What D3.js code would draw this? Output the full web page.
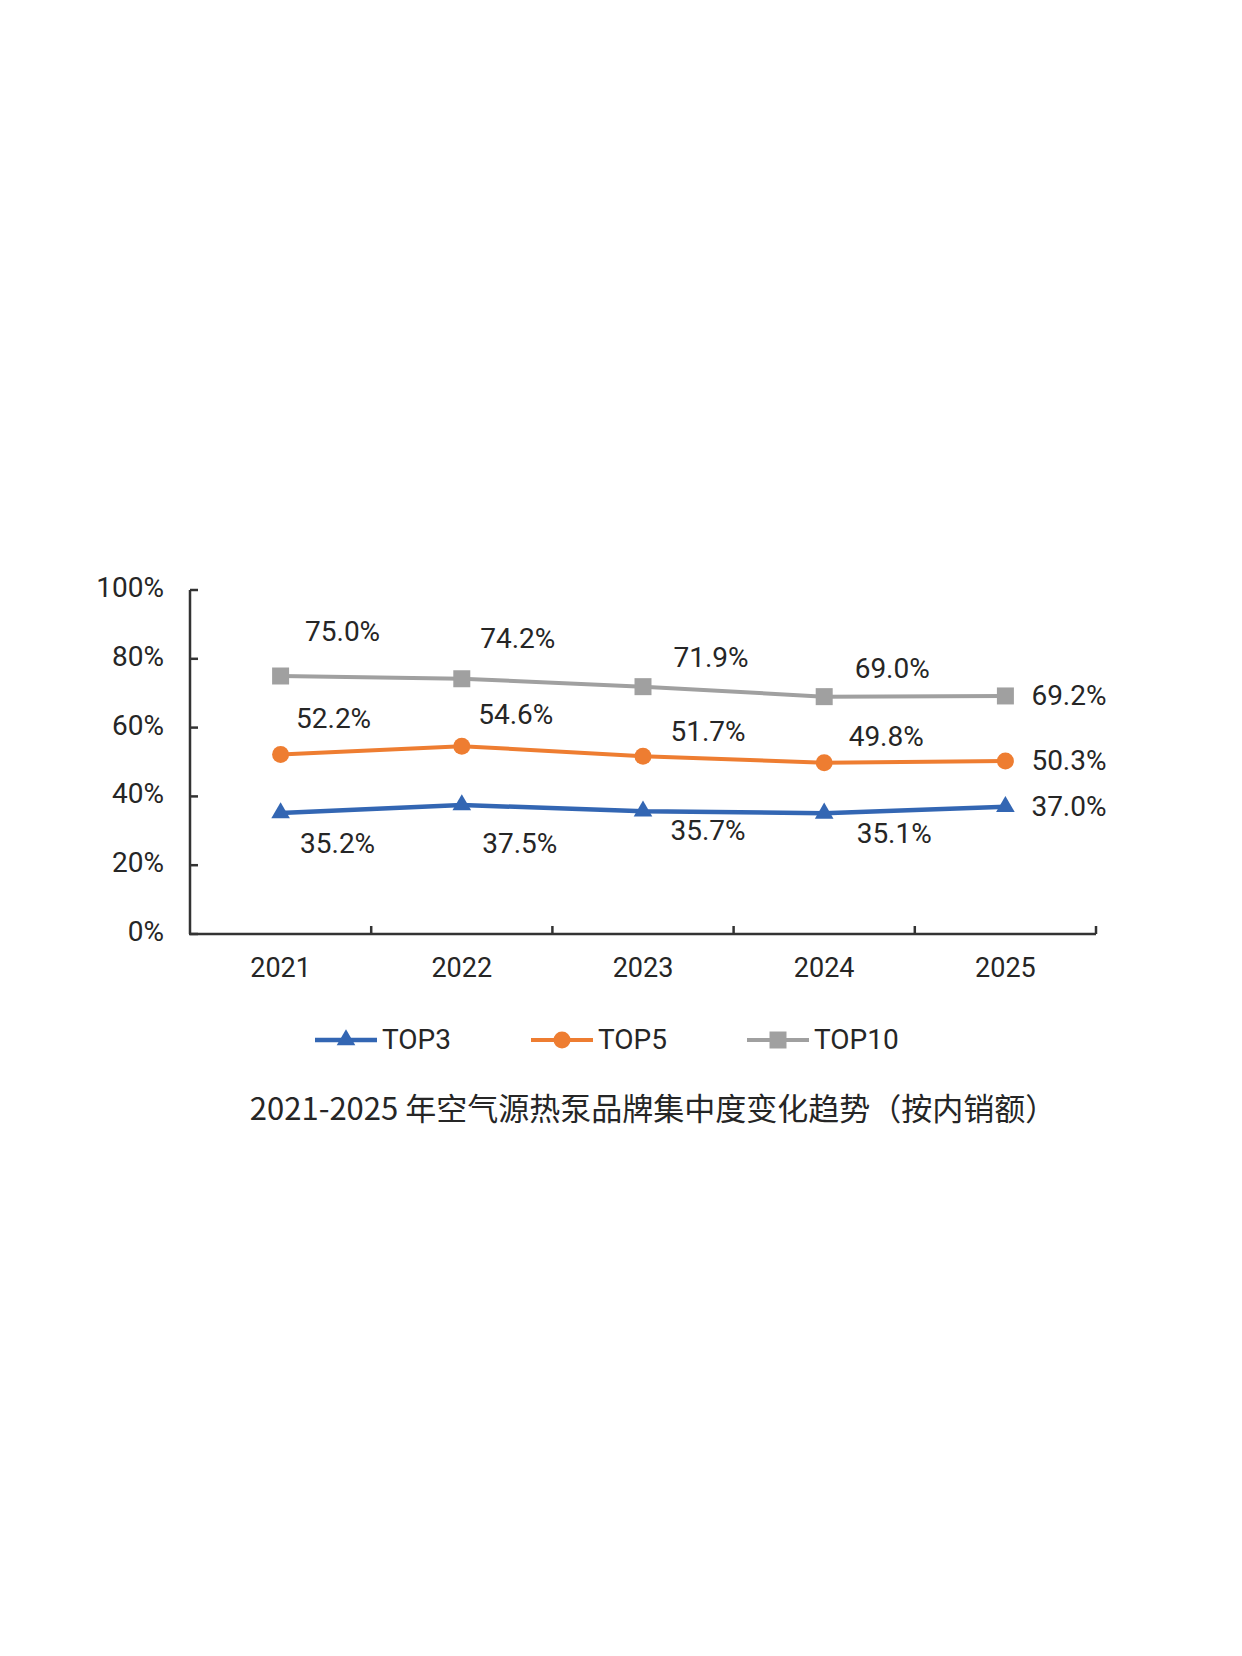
<!DOCTYPE html>
<html>
<head>
<meta charset="utf-8">
<script src="https://cdn.jsdelivr.net/npm/d3@7"></script>
<style>
  body { margin: 0; background: #fff; }
  text { font-family: Roboto, 'Noto Sans CJK SC', sans-serif; fill: #262626; }
</style>
</head>
<body>
<div id="chart"></div>
<script>
// chart data
var years = ['2021', '2022', '2023', '2024', '2025'];
var top3 = [35.2, 37.5, 35.7, 35.1, 37.0];
var top5 = [52.2, 54.6, 51.7, 49.8, 50.3];
var top10 = [75.0, 74.2, 71.9, 69.0, 69.2];
var yTicks = [0, 20, 40, 60, 80, 100];
var seriesNames = ['TOP3', 'TOP5', 'TOP10'];
var title = '2021-2025 年空气源热泵品牌集中度变化趋势（按内销额）';

var width = 1242, height = 1656;
var svg = d3.select('#chart').append('svg')
  .attr('width', width)
  .attr('height', height);

// plot area (window.top is reserved, so use other names)
var plotLeft = 190, plotRight = 1096, plotTop = 590, plotBottom = 934;

var x = d3.scaleBand().domain(years).range([plotLeft, plotRight]).padding(0);
var y = d3.scaleLinear().domain([0, 100]).range([plotBottom, plotTop]);
var cx = function(d) { return x(d) + x.bandwidth() / 2; };

// series styles: marker + label placement (label offsets from the point, per year;
// the last year's label sits to the right of its point)
var series = [
  { name: seriesNames[0], values: top3, color: '#3366b3', width: 4.5,
    symbol: d3.symbolTriangle, size: 150,
    dx: [57, 58, 65, 70], dy: [40, 48, 29, 30] },
  { name: seriesNames[1], values: top5, color: '#ee7d31', width: 4,
    symbol: d3.symbolCircle, size: 227,
    dx: [53, 54, 65, 62], dy: [-26, -22, -15, -17] },
  { name: seriesNames[2], values: top10, color: '#a0a0a0', width: 4,
    symbol: d3.symbolSquare, size: 289,
    dx: [62, 56, 68, 68], dy: [-35, -31, -20, -19] }
];

var axisColor = '#333';

// y axis
svg.append('line')
  .attr('x1', plotLeft).attr('x2', plotLeft)
  .attr('y1', plotTop).attr('y2', plotBottom)
  .attr('stroke', axisColor).attr('stroke-width', 2.5);

svg.selectAll('.ytick')
  .data(yTicks)
  .enter()
  .append('line')
  .attr('x1', plotLeft).attr('x2', plotLeft + 8)
  .attr('y1', function(d) { return y(d); })
  .attr('y2', function(d) { return y(d); })
  .attr('stroke', axisColor).attr('stroke-width', 2.5);

svg.selectAll('.ylabel')
  .data(yTicks)
  .enter()
  .append('text')
  .attr('x', 164)
  .attr('y', function(d) { return y(d) + 7; })
  .attr('text-anchor', 'end')
  .style('font-size', '28px')
  .text(function(d) { return d + '%'; });

// x axis
svg.append('line')
  .attr('x1', plotLeft - 1).attr('x2', plotRight)
  .attr('y1', plotBottom).attr('y2', plotBottom)
  .attr('stroke', axisColor).attr('stroke-width', 2.5);

svg.selectAll('.xtick')
  .data(years)
  .enter()
  .append('line')
  .attr('x1', function(d) { return x(d) + x.bandwidth(); })
  .attr('x2', function(d) { return x(d) + x.bandwidth(); })
  .attr('y1', plotBottom).attr('y2', plotBottom - 8)
  .attr('stroke', axisColor).attr('stroke-width', 2.5);

svg.selectAll('.xlabel')
  .data(years)
  .enter()
  .append('text')
  .attr('x', cx)
  .attr('y', 977)
  .attr('text-anchor', 'middle')
  .style('font-size', '27px')
  .text(function(d) { return d; });

// lines, markers, labels
var line = d3.line()
  .x(function(d, i) { return cx(years[i]); })
  .y(function(d) { return y(d); });

series.forEach(function(s) {
  svg.append('path')
    .datum(s.values)
    .attr('d', line)
    .attr('fill', 'none')
    .attr('stroke', s.color)
    .attr('stroke-width', s.width);

  svg.selectAll(null)
    .data(s.values)
    .enter()
    .append('path')
    .attr('d', d3.symbol().type(s.symbol).size(s.size))
    .attr('transform', function(d, i) {
      return 'translate(' + cx(years[i]) + ',' + y(d) + ')';
    })
    .attr('fill', s.color);

  var last = s.values.length - 1;
  svg.selectAll(null)
    .data(s.values)
    .enter()
    .append('text')
    .attr('x', function(d, i) {
      return i === last ? cx(years[i]) + 26 : cx(years[i]) + s.dx[i];
    })
    .attr('y', function(d, i) {
      return i === last ? y(d) + 9 : y(d) + s.dy[i];
    })
    .attr('text-anchor', function(d, i) { return i === last ? 'start' : 'middle'; })
    .style('font-size', '28px')
    .text(function(d) { return d.toFixed(1) + '%'; });
});

// legend
var legendX = [315, 531, 747];
var legendY = 1040;
series.forEach(function(s, i) {
  var g = svg.append('g').attr('transform', 'translate(' + legendX[i] + ',' + legendY + ')');
  g.append('line')
    .attr('x1', 0).attr('x2', 62)
    .attr('stroke', s.color).attr('stroke-width', s.width);
  g.append('path')
    .attr('d', d3.symbol().type(s.symbol).size(s.size))
    .attr('transform', 'translate(31,0)')
    .attr('fill', s.color);
  g.append('text')
    .attr('x', 67)
    .attr('y', 9)
    .style('font-size', '28px')
    .text(s.name);
});

// title
svg.append('text')
  .attr('x', 653)
  .attr('y', 1120)
  .attr('text-anchor', 'middle')
  .style('font-family', "'Noto Sans CJK SC', sans-serif")
  .style('font-size', '31px')
  .text(title);
</script>
</body>
</html>
